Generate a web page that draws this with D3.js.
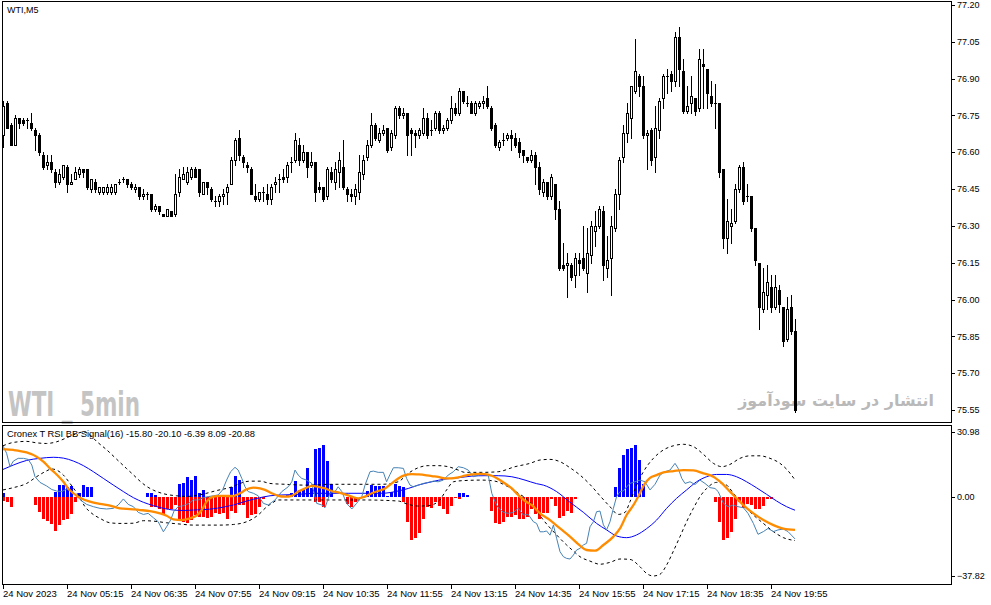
<!DOCTYPE html>
<html><head><meta charset="utf-8">
<script src="https://cdn.jsdelivr.net/npm/d3@7"></script>
<style>
html,body{margin:0;padding:0;background:#fff;}
svg{display:block;}
text{font-family:"Liberation Sans",Arial,sans-serif;}
</style></head><body>
<svg id="c" width="991" height="605"></svg>
<script>
// ---------- DATA ----------
const opens=[76.67,76.80,76.71,76.63,76.74,76.73,76.73,76.72,76.69,76.67,76.59,76.55,76.56,76.52,76.48,76.50,76.54,76.47,76.49,76.51,76.53,76.53,76.45,76.48,76.44,76.44,76.44,76.44,76.44,76.48,76.49,76.49,76.47,76.45,76.46,76.42,76.43,76.43,76.37,76.38,76.35,76.34,76.36,76.35,76.44,76.49,76.48,76.50,76.53,76.53,76.43,76.48,76.45,76.40,76.40,76.42,76.44,76.47,76.57,76.66,76.58,76.55,76.53,76.42,76.41,76.44,76.43,76.41,76.47,76.49,76.50,76.50,76.56,76.57,76.63,76.57,76.60,76.55,76.56,76.46,76.46,76.42,76.52,76.48,76.52,76.54,76.45,76.43,76.42,76.44,76.51,76.58,76.63,76.71,76.65,76.68,76.70,76.62,76.67,76.78,76.75,76.76,76.69,76.68,76.67,76.68,76.74,76.69,76.70,76.76,76.69,76.70,76.73,76.78,76.76,76.85,76.80,76.80,76.76,76.79,76.80,76.82,76.78,76.71,76.62,76.65,76.66,76.67,76.66,76.64,76.61,76.58,76.57,76.59,76.54,76.44,76.48,76.42,76.47,76.37,76.14,76.14,76.14,76.10,76.16,76.17,76.11,76.18,76.28,76.30,76.36,76.13,76.17,76.29,76.43,76.58,76.68,76.74,76.85,76.91,76.87,76.67,76.69,76.58,76.69,76.82,76.91,76.92,76.89,77.07,76.93,76.77,76.80,76.82,76.78,76.96,76.94,76.83,76.80,76.80,76.53,76.25,76.30,76.32,76.45,76.54,76.42,76.42,76.29,76.15,75.96,76.02,76.05,75.97,76.04,75.97,75.84,75.97,75.87];
const highs=[76.81,76.81,76.72,76.75,76.74,76.74,76.74,76.76,76.70,76.68,76.60,76.59,76.59,76.53,76.53,76.55,76.55,76.51,76.54,76.54,76.53,76.53,76.49,76.49,76.46,76.46,76.47,76.47,76.47,76.49,76.50,76.49,76.48,76.47,76.46,76.45,76.44,76.43,76.39,76.38,76.35,76.37,76.36,76.51,76.53,76.54,76.54,76.54,76.54,76.53,76.48,76.48,76.46,76.42,76.43,76.45,76.47,76.58,76.66,76.69,76.59,76.56,76.54,76.47,76.44,76.46,76.47,76.47,76.50,76.51,76.53,76.56,76.58,76.68,76.66,76.63,76.60,76.60,76.56,76.48,76.46,76.54,76.54,76.56,76.60,76.65,76.46,76.45,76.47,76.59,76.59,76.65,76.76,76.72,76.70,76.71,76.70,76.69,76.79,76.79,76.78,76.76,76.70,76.69,76.70,76.78,76.76,76.73,76.77,76.77,76.71,76.74,76.83,76.80,76.86,76.85,76.83,76.81,76.81,76.81,76.83,76.87,76.79,76.72,76.65,76.68,76.68,76.69,76.68,76.66,76.61,76.58,76.61,76.60,76.56,76.49,76.48,76.51,76.47,76.40,76.23,76.19,76.15,76.19,76.19,76.30,76.29,76.32,76.36,76.38,76.38,76.26,76.34,76.45,76.58,76.71,76.80,76.87,77.06,76.92,76.91,76.69,76.70,76.79,76.82,76.92,76.94,76.93,77.09,77.11,76.98,76.87,76.91,76.82,77.02,77.02,76.94,76.89,76.88,76.80,76.53,76.41,76.37,76.47,76.55,76.56,76.47,76.42,76.29,76.15,76.13,76.14,76.10,76.10,76.06,75.97,76.01,76.02,75.92];
const lows=[76.62,76.70,76.63,76.63,76.70,76.71,76.70,76.69,76.61,76.59,76.53,76.53,76.52,76.46,76.47,76.49,76.44,76.47,76.49,76.50,76.50,76.45,76.44,76.44,76.43,76.43,76.43,76.43,76.43,76.47,76.48,76.46,76.45,76.44,76.41,76.41,76.41,76.36,76.36,76.35,76.34,76.34,76.34,76.34,76.42,76.49,76.47,76.49,76.50,76.42,76.43,76.43,76.40,76.38,76.38,76.39,76.39,76.47,76.55,76.57,76.54,76.52,76.43,76.40,76.40,76.40,76.39,76.39,76.44,76.44,76.48,76.48,76.52,76.56,76.55,76.56,76.50,76.54,76.40,76.44,76.40,76.41,76.48,76.45,76.46,76.45,76.40,76.40,76.39,76.41,76.49,76.57,76.62,76.65,76.64,76.67,76.60,76.61,76.66,76.74,76.74,76.59,76.59,76.62,76.66,76.67,76.66,76.67,76.69,76.68,76.68,76.69,76.72,76.75,76.75,76.80,76.79,76.76,76.75,76.78,76.78,76.78,76.69,76.62,76.61,76.63,76.65,76.61,76.62,76.58,76.56,76.56,76.56,76.47,76.43,76.42,76.41,76.41,76.33,76.12,76.12,76.01,76.08,76.05,76.10,76.12,76.03,76.15,76.22,76.29,76.08,76.09,76.02,76.28,76.37,76.56,76.64,76.66,76.84,76.83,76.66,76.53,76.55,76.52,76.66,76.78,76.84,76.85,76.87,76.87,76.76,76.76,76.76,76.75,76.77,76.78,76.78,76.79,76.70,76.50,76.21,76.19,76.23,76.31,76.44,76.39,76.40,76.28,76.14,75.88,75.95,75.96,75.95,75.96,75.95,75.81,75.83,75.86,75.54];
const closes=[76.79,76.70,76.63,76.74,76.72,76.72,76.73,76.70,76.67,76.60,76.54,76.56,76.53,76.48,76.51,76.55,76.47,76.48,76.52,76.53,76.52,76.46,76.49,76.45,76.46,76.46,76.46,76.46,76.47,76.48,76.49,76.47,76.46,76.46,76.42,76.43,76.43,76.37,76.38,76.36,76.34,76.37,76.34,76.43,76.50,76.51,76.52,76.53,76.50,76.44,76.48,76.46,76.41,76.40,76.42,76.43,76.46,76.57,76.65,76.59,76.56,76.54,76.43,76.41,76.44,76.44,76.41,76.46,76.48,76.49,76.49,76.55,76.56,76.65,76.57,76.60,76.54,76.56,76.44,76.45,76.41,76.53,76.49,76.53,76.57,76.46,76.43,76.42,76.45,76.52,76.57,76.63,76.71,76.66,76.68,76.69,76.61,76.68,76.78,76.75,76.76,76.67,76.68,76.67,76.69,76.74,76.67,76.69,76.76,76.69,76.70,76.73,76.78,76.76,76.85,76.81,76.80,76.76,76.80,76.80,76.81,76.79,76.70,76.63,76.64,76.65,76.67,76.66,76.63,76.60,76.59,76.57,76.59,76.54,76.45,76.48,76.42,76.50,76.37,76.13,76.13,76.15,76.09,76.17,76.15,76.13,76.19,76.30,76.30,76.37,76.14,76.16,76.30,76.43,76.57,76.68,76.76,76.87,76.93,76.87,76.67,76.68,76.57,76.70,76.81,76.91,76.91,76.89,77.07,76.94,76.77,76.79,76.83,76.77,76.98,76.95,76.84,76.80,76.80,76.52,76.25,76.32,76.31,76.45,76.54,76.40,76.42,76.29,76.16,75.97,76.03,76.07,75.97,76.05,75.98,75.83,75.96,75.87,75.55];

const timeLabels=["24 Nov 2023","24 Nov 05:15","24 Nov 06:35","24 Nov 07:55","24 Nov 09:15","24 Nov 10:35","24 Nov 11:55","24 Nov 13:15","24 Nov 14:35","24 Nov 15:55","24 Nov 17:15","24 Nov 18:35","24 Nov 19:55"];
const timeLabelBars=[0,16,32,48,64,80,96,112,128,144,160,176,192];
const priceTicks=[77.20,77.05,76.90,76.75,76.60,76.45,76.30,76.15,76.00,75.85,75.70,75.55];
const indTicks=[30.98,0.00,-37.82];
const indLegend="Cronex T RSI BB Signal(16) -15.80 -20.10 -6.39 8.09 -20.88";

// histogram buffers [bar, value]
const upHist=[[0,1.6],[13,2.4],[14,5.6],[15,5.6],[16,4.8],[17,5.3],[19,1.6],[20,5.6],[21,4.8],[22,4.8],[36,1.6],[37,1.6],[38,1.1],[44,5.9],[45,6.4],[46,9.6],[47,8.0],[48,10.0],[49,1.6],[50,3.2],[57,4.8],[58,10.0],[59,8.0],[71,1.1],[72,1.6],[73,7.5],[74,3.2],[75,3.7],[76,13.9],[77,4.3],[78,22.8],[79,23.4],[80,24.7],[81,17.0],[82,6.2],[91,2.7],[92,5.6],[93,5.1],[94,5.1],[95,5.1],[96,0.3],[97,2.4],[98,6.2],[99,5.3],[100,4.6],[114,1.6],[115,1.6],[116,1.1],[153,4.8],[154,13.9],[155,20.2],[156,22.8],[157,23.4],[158,24.7],[159,17.5],[160,5.9]];
const downHist=[[0,-2.1],[1,-2.4],[2,-4.8],[8,-3.7],[9,-7.2],[10,-10.8],[11,-11.6],[12,-13.2],[13,-16.4],[14,-13.5],[15,-11.1],[16,-10.4],[17,-8.0],[18,-2.7],[37,-4.8],[38,-4.8],[39,-5.9],[40,-8.8],[41,-5.6],[42,-5.6],[43,-4.0],[44,-10.4],[45,-11.9],[46,-12.7],[47,-11.1],[48,-8.8],[49,-9.6],[50,-9.6],[51,-10.0],[52,-9.6],[53,-7.5],[54,-8.4],[55,-7.5],[56,-10.4],[57,-6.8],[58,-7.5],[59,-4.0],[60,-4.0],[61,-10.0],[62,-8.8],[63,-8.0],[64,-4.8],[65,-0.8],[78,-2.4],[79,-2.4],[80,-4.8],[86,-3.2],[87,-4.8],[88,-2.7],[100,-2.4],[101,-11.9],[102,-20.7],[103,-19.6],[104,-17.5],[105,-10.7],[106,-4.8],[107,-5.3],[108,-2.7],[109,-4.3],[110,-5.6],[111,-8.4],[112,-4.3],[113,-0.5],[114,-0.8],[122,-6.8],[123,-12.3],[124,-13.1],[125,-11.9],[126,-9.6],[127,-9.6],[128,-8.8],[129,-10.4],[130,-10.7],[131,-9.6],[132,-6.0],[133,-8.0],[134,-10.4],[135,-7.5],[136,-7.5],[137,-0.8],[138,-4.3],[139,-10.0],[140,-9.1],[141,-6.8],[142,-7.5],[143,-0.8],[178,-2.4],[179,-11.9],[180,-20.7],[181,-19.6],[182,-17.0],[183,-10.4],[184,-2.7],[185,-5.3],[186,-3.2],[187,-4.0],[188,-5.6],[189,-5.9],[190,-4.3],[191,-0.8],[192,-0.8]];

// line buffers [bar, value]
const signalLine=[[0,22.8],[2.6,22.4],[5.9,21.2],[8.4,19.2],[10.1,16.8],[11.75,13.6],[13.4,10.7],[15.1,7.2],[16.3,4.0],[17.6,1.7],[19.25,-0.4],[21.75,-2.3],[24.25,-3.4],[26.75,-4.2],[29.25,-5.5],[31.75,-5.9],[34.25,-6.3],[36.75,-6.8],[39.25,-7.9],[40.9,-9.0],[42.6,-10.8],[44.7,-11.1],[46.75,-10.3],[48.4,-9.0],[49.7,-6.3],[50.9,-2.3],[52.6,0.1],[54.25,0.5],[55.9,0.4],[57.6,0.4],[59.25,1.7],[60.9,3.6],[62.6,4.4],[64.25,4.0],[65.5,3.3],[67.2,1.7],[68.8,0.5],[70.5,0.1],[72.2,0.5],[73.8,2.5],[75.5,4.0],[77.2,5.2],[78.8,4.8],[80.5,4.0],[82.2,2.8],[83.8,2.1],[85.5,1.2],[87.2,0.1],[88.8,-0.7],[90.5,0.1],[92.2,1.7],[93.8,2.8],[95.5,4.0],[97.2,6.4],[98.8,8.8],[100.5,10.4],[102.2,10.9],[103.8,10.7],[105.5,10.4],[107.2,9.9],[108.8,9.5],[110.5,8.8],[112.2,8.8],[113.8,9.3],[115.5,10.1],[117.2,10.7],[118.8,11.0],[120.5,10.9],[122.2,10.1],[123.8,8.5],[125.5,6.4],[127.2,4.0],[128.8,0.9],[130.5,-2.0],[132.2,-3.9],[134.25,-7.9],[136.75,-11.1],[139.25,-15.1],[141.75,-19.0],[144.25,-23.3],[145.9,-25.4],[148.0,-25.7],[150.1,-23.0],[152.6,-19.0],[154.25,-15.1],[155.9,-8.7],[157.6,-4.0],[158.8,0.1],[160.5,6.4],[161.75,9.1],[163.4,10.4],[165.1,11.7],[167.6,12.3],[170.1,12.8],[172.6,12.6],[175.1,11.2],[177.6,9.6],[179.75,6.4],[181.75,2.5],[183.4,-0.7],[185.5,-4.7],[187.6,-7.9],[190.1,-11.1],[192.6,-13.5],[195.1,-15.2],[198,-15.8]];
const rsiLine=[[0,24.4],[0.9,20.8],[1.75,14.4],[2.6,17.1],[3.8,18.4],[5.1,18.4],[6.3,17.9],[7.2,15.2],[8.0,9.6],[9.25,6.9],[10.9,5.2],[12.2,3.5],[13.4,2.8],[14.7,2.5],[15.9,3.7],[17.2,2.5],[18.4,0.4],[19.7,-2.0],[20.9,-3.6],[22.6,-4.7],[24.25,-5.5],[25.9,-5.8],[27.6,-5.5],[28.8,-3.9],[30.1,-1.0],[31.3,-3.6],[32.6,-4.7],[33.8,-7.4],[35.1,-8.4],[36.3,-7.9],[37.6,-10.0],[38.8,-11.9],[40.1,-16.7],[40.9,-14.3],[41.9,-11.1],[42.75,-6.8],[43.8,-4.7],[45.1,-4.2],[46.3,-3.3],[47.6,-1.5],[48.8,-1.5],[50.1,-0.4],[51.3,0.1],[52.6,0.5],[53.8,0.9],[54.9,3.3],[55.9,8.0],[56.9,12.0],[58.0,14.1],[58.8,12.8],[59.7,8.8],[60.5,4.8],[61.3,2.5],[62.6,1.7],[63.8,0.5],[65.1,-3.1],[66.3,-3.9],[67.2,-2.6],[68,-1.5],[69.7,2.5],[71.3,4.8],[72.2,7.2],[73,12.8],[73.8,10.4],[74.7,8.8],[75.9,8.0],[77.2,6.4],[78.4,-3.1],[79.7,-3.9],[80.5,-5.2],[81.75,1.7],[83,2.5],[83.8,4.8],[84.7,2.5],[85.9,-3.1],[87.2,-5.8],[88.4,-3.1],[89.7,0.1],[90.5,5.6],[91.75,12.0],[92.6,12.3],[93.8,11.7],[95.1,11.7],[95.9,7.2],[96.75,10.7],[97.6,13.9],[98.8,13.9],[100.1,13.6],[100.9,8.8],[101.75,5.6],[102.6,4.8],[103.8,5.6],[105.1,6.4],[106.3,6.9],[107.6,7.5],[108.8,7.2],[110.1,8.0],[111.3,10.4],[112.6,12.0],[113.8,14.4],[115.1,13.9],[116.3,12.8],[117.6,9.6],[118.8,10.4],[120.1,10.7],[121.3,10.4],[122.2,1.7],[123,-2.3],[123.8,-5.2],[125.1,-7.4],[126.3,-7.9],[127.6,-7.4],[128.8,-5.5],[130.1,-8.7],[131.3,-8.4],[132.6,-11.9],[133.4,-12.7],[134.25,-16.7],[135.1,-16.7],[135.9,-16.3],[136.75,-18.3],[137.6,-13.5],[138.4,-19.8],[139.25,-26.2],[140.1,-28.6],[140.9,-29.4],[141.75,-29.7],[142.6,-27.8],[143.4,-25.4],[144.25,-24.6],[145.1,-23.0],[145.9,-22.2],[146.75,-14.3],[147.6,-11.9],[148.4,-7.1],[149.25,-6.8],[150.1,-13.4],[150.9,-15.8],[151.75,-11.9],[152.6,-5.5],[153.4,0.1],[154.25,2.5],[155.1,2.8],[155.9,4.8],[156.75,6.4],[158,7.2],[159.25,8.0],[160.5,7.2],[161.75,3.3],[163,6.0],[164.25,10.4],[165.5,12.0],[166.75,12.8],[168,16.0],[168.8,13.6],[169.7,8.8],[170.5,6.4],[171.75,7.2],[173,5.9],[174.25,8.0],[175.5,6.4],[176.75,4.4],[178,4.0],[178.8,2.5],[180.1,-3.1],[181.25,-4.7],[182.6,-3.9],[183.75,-4.7],[185.1,-5.2],[186.25,-7.9],[187.6,-12.7],[188.75,-17.9],[190.1,-16.6],[191.25,-15.1],[192.6,-16.6],[193.75,-15.8],[195.1,-15.4],[196.25,-16.6],[197.1,-18.3],[198,-20.1]];
const middleLine=[[0,13.1],[2.6,15.2],[5.9,17.4],[9.25,18.4],[12.6,18.9],[15.1,18.5],[17.6,17.1],[20.1,14.9],[22.6,12.0],[25.1,8.8],[27.6,5.6],[30.1,2.5],[32.6,-0.4],[35.1,-2.6],[37.6,-4.2],[40.1,-5.5],[42.6,-6.3],[45.1,-6.5],[47.6,-6.3],[51.0,-6.0],[54.25,-5.2],[57.6,-3.9],[60.9,-2.0],[64.25,-0.4],[66.75,0.5],[69.7,0.9],[73.8,1.2],[78.0,1.7],[82.2,1.7],[86.3,1.7],[90.5,1.7],[94.7,1.7],[98.8,2.8],[101.3,4.0],[103.8,5.6],[107.2,7.2],[110.5,8.5],[113.8,9.1],[117.2,9.9],[120.5,10.1],[123.8,10.1],[127.2,9.6],[130.5,8.0],[133.4,6.3],[135.1,5.6],[138.4,2.5],[141.75,-2.6],[145.1,-7.4],[148.4,-12.7],[150.9,-15.8],[153.4,-18.7],[155.9,-19.5],[158.4,-18.2],[160.9,-15.2],[163.4,-11.1],[165.9,-5.5],[168.4,-0.7],[170.9,3.3],[173.4,7.2],[175.9,9.6],[178.4,10.7],[180.9,10.7],[183.4,9.6],[185.9,7.2],[188.4,4.3],[190.9,1.2],[193.4,-2.0],[195.9,-4.7],[198,-6.39]];
const upperBand=[[0,24.4],[2.6,26.0],[5.9,26.5],[8.4,25.8],[10.9,25.5],[13.4,26.3],[15.9,28.2],[18.4,30.2],[20,30.98],[21.5,30.0],[23.4,26.5],[25.9,22.5],[28.4,18.0],[30.9,13.5],[32.6,10.5],[34.25,7.5],[35.9,5.0],[37.6,3.2],[40.1,1.5],[43.4,0.5],[45.9,0.2],[49.25,1.0],[53.4,3.0],[57.6,5.0],[59.25,6.4],[61.75,7.5],[64.25,7.5],[66.75,6.4],[70.5,6.0],[75.5,5.6],[82.2,6.0],[90.5,6.0],[94.7,6.0],[98.8,7.2],[101.3,11.2],[103.8,13.9],[106.3,14.9],[108.8,14.9],[111.3,14.4],[113.8,12.8],[115.5,11.7],[119.7,11.7],[123.8,12.0],[128.0,14.4],[131.75,16.0],[134.25,17.6],[136.75,17.9],[139.25,16.8],[141.75,13.9],[144.25,10.4],[146.75,5.9],[149.25,0.5],[151.75,-4.7],[153.8,-8.4],[155.5,-7.4],[156.75,-2.3],[158.4,5.6],[160.1,12.0],[162.6,18.4],[165.1,22.4],[167.6,24.4],[170.1,25.1],[172.6,24.0],[175.1,20.3],[177.6,16.0],[179.75,14.4],[181.75,15.5],[184.25,18.4],[186.75,19.6],[189.25,19.6],[191.75,18.4],[194.25,16.0],[196,13.0],[198,8.09]];
const lowerBand=[[0,3.3],[2.6,4.4],[5.9,6.4],[8.4,9.6],[10.5,12.0],[12.2,13.3],[13.4,12.8],[15.1,10.4],[16.75,6.4],[18.8,0.9],[20.5,-4.7],[22.2,-7.9],[24.25,-10.3],[26.75,-12.4],[29.25,-12.7],[32.6,-12.6],[35.1,-11.4],[37.6,-11.6],[40.9,-12.4],[44.25,-13.0],[47.6,-13.5],[50.9,-13.5],[54.25,-13.5],[57.6,-13.2],[60.9,-11.9],[62.6,-10.3],[64.25,-7.9],[65.5,-5.5],[67.2,-3.1],[68.8,-1.5],[73.8,-1.5],[82.2,-1.5],[90.5,-1.5],[98.8,-2.0],[101.3,-3.6],[103.8,-4.4],[106.3,-4.2],[108.8,-2.3],[110.9,3.3],[112.6,7.2],[115.5,7.8],[119.7,8.0],[123.0,7.5],[125.5,5.6],[128.8,1.7],[131.5,-2.0],[133.4,-6.8],[135.1,-11.1],[138.4,-18.2],[140.9,-23.0],[142.6,-25.9],[144.25,-28.6],[146.75,-30.7],[149.25,-32.2],[151.75,-31.3],[154.25,-29.7],[156.75,-29.9],[159.25,-33.4],[160.9,-36.6],[162.6,-37.82],[164.25,-37.0],[165.9,-32.6],[167.6,-25.9],[169.25,-19.0],[170.9,-11.9],[172.6,-5.5],[174.25,0.1],[175.9,4.0],[178.4,6.9],[180.9,5.6],[182.6,1.7],[185.1,-3.9],[187.6,-8.7],[190.1,-12.7],[192.6,-16.6],[195.1,-19.5],[198,-20.88]];

// ---------- DRAW ----------
const svg=d3.select('#c');
const L=2.5,R=951.5,mainT=1.5,mainB=422.5,indT=425.5,indB=584.5;
const nBars=opens.length;
const x=d3.scaleLinear().domain([0,nBars-1]).range([3,3+4*(nBars-1)]);
const yP=d3.scaleLinear().domain([75.55,77.20]).range([410,5]);
const yI=d3.scaleLinear().domain([-37.82,30.98]).range([576,432]);
const px=i=>Math.round(x(i))+0.5;

const defs=svg.append('defs');
defs.append('clipPath').attr('id','mainClip').append('rect').attr('x',L).attr('y',mainT).attr('width',R-L).attr('height',mainB-mainT);
defs.append('clipPath').attr('id','indClip').append('rect').attr('x',L).attr('y',indT).attr('width',R-L).attr('height',indB-indT);

// watermarks
svg.append('text').attr('x',8).attr('y',416).attr('textLength',132).attr('lengthAdjust','spacingAndGlyphs')
  .style('font-family','"Liberation Sans Narrow","DejaVu Sans Condensed","Liberation Sans",sans-serif')
  .style('font-weight','bold').style('font-size','33px').attr('fill','#c4c4c4').text('WTI _ 5min');
const fa=svg.append('text').attr('x',934).attr('y',406).attr('text-anchor','end')
  .style('font-family','"DejaVu Sans",sans-serif').style('font-weight','bold').style('font-size','19px')
  .attr('fill','#b9b9b9').text('انتشار در سایت سودآموز');
const faW=fa.node().getComputedTextLength();
if(faW>0) fa.style('font-size',(19*196/faW).toFixed(2)+'px');

// candles
const bars=d3.range(nBars).map(i=>({i,o:opens[i],h:highs[i],l:lows[i],c:closes[i]}));
const cg=svg.append('g').attr('clip-path','url(#mainClip)').attr('shape-rendering','crispEdges');
const py=v=>Math.round(yP(v));
cg.selectAll('line.wick').data(bars).join('line').attr('class','wick')
  .attr('x1',d=>px(d.i)).attr('x2',d=>px(d.i)).attr('y1',d=>py(d.h)).attr('y2',d=>py(d.l)+1)
  .attr('stroke','#000').attr('stroke-width',1);
cg.selectAll('rect.bear').data(bars.filter(d=>d.c<d.o)).join('rect').attr('class','bear')
  .attr('x',d=>px(d.i)-1.5).attr('width',3).attr('y',d=>py(d.o)).attr('height',d=>py(d.c)-py(d.o)+1).attr('fill','#000');
cg.selectAll('rect.bull').data(bars.filter(d=>d.c>d.o)).join('rect').attr('class','bull')
  .attr('x',d=>px(d.i)-1).attr('width',2).attr('y',d=>py(d.c)+0.5).attr('height',d=>Math.max(py(d.o)-py(d.c),0))
  .attr('fill','#fff').attr('stroke','#000').attr('stroke-width',1);
cg.selectAll('line.doji').data(bars.filter(d=>d.c===d.o)).join('line').attr('class','doji')
  .attr('x1',d=>px(d.i)-1.5).attr('x2',d=>px(d.i)+1.5).attr('y1',d=>py(d.o)+0.5).attr('y2',d=>py(d.o)+0.5)
  .attr('stroke','#000').attr('stroke-width',1);

// indicator
const ig=svg.append('g').attr('clip-path','url(#indClip)');
const hg=ig.append('g').attr('shape-rendering','crispEdges');
const z0=Math.round(yI(0));
hg.selectAll('rect.up').data(upHist).join('rect').attr('class','up')
  .attr('x',d=>px(d[0])-1.5).attr('width',3).attr('y',d=>Math.round(yI(d[1]))).attr('height',d=>z0-Math.round(yI(d[1])))
  .attr('fill','#0000ff');
hg.selectAll('rect.dn').data(downHist).join('rect').attr('class','dn')
  .attr('x',d=>px(d[0])-1.5).attr('width',3).attr('y',z0).attr('height',d=>Math.round(yI(d[1]))-z0)
  .attr('fill','#ff0000');

const smooth=d3.line().x(d=>x(d[0])).y(d=>yI(d[1])).curve(d3.curveMonotoneX);
const straight=d3.line().x(d=>x(d[0])).y(d=>yI(d[1]));
ig.append('path').datum(upperBand).attr('d',smooth).attr('fill','none').attr('stroke','#000').attr('stroke-width',1).attr('stroke-dasharray','3,3');
ig.append('path').datum(lowerBand).attr('d',smooth).attr('fill','none').attr('stroke','#000').attr('stroke-width',1).attr('stroke-dasharray','3,3');
ig.append('path').datum(middleLine).attr('d',smooth).attr('fill','none').attr('stroke','#0000ff').attr('stroke-width',1);
ig.append('path').datum(rsiLine).attr('d',straight).attr('fill','none').attr('stroke','#4682b4').attr('stroke-width',1);
ig.append('path').datum(signalLine).attr('d',smooth).attr('fill','none').attr('stroke','#ff8c00').attr('stroke-width',2.3);

// frames
svg.append('rect').attr('x',L).attr('y',mainT).attr('width',R-L).attr('height',mainB-mainT).attr('fill','none').attr('stroke','#000').attr('shape-rendering','crispEdges');
svg.append('rect').attr('x',L).attr('y',indT).attr('width',R-L).attr('height',indB-indT).attr('fill','none').attr('stroke','#000').attr('shape-rendering','crispEdges');

// labels
svg.append('text').attr('x',7).attr('y',13).style('font-size','9px').attr('fill','#000').text('WTI,M5');
svg.append('text').attr('x',7).attr('y',437).style('font-size','9px').attr('fill','#000').attr('textLength',248).attr('lengthAdjust','spacingAndGlyphs').text(indLegend);

// price axis
const pa=svg.append('g');
pa.selectAll('line').data(priceTicks).join('line').attr('x1',R).attr('x2',R+3.5)
  .attr('y1',d=>Math.round(yP(d))+0.5).attr('y2',d=>Math.round(yP(d))+0.5).attr('stroke','#000').attr('shape-rendering','crispEdges');
pa.selectAll('text').data(priceTicks).join('text').attr('x',957).attr('y',d=>yP(d)).attr('dy','0.35em')
  .style('font-size','9px').attr('fill','#000').text(d=>d3.format('.2f')(d));
const ia=svg.append('g');
ia.selectAll('line').data(indTicks).join('line').attr('x1',R).attr('x2',R+3.5)
  .attr('y1',d=>Math.round(yI(d))+0.5).attr('y2',d=>Math.round(yI(d))+0.5).attr('stroke','#000').attr('shape-rendering','crispEdges');
ia.selectAll('text').data(indTicks).join('text').attr('x',957).attr('y',d=>yI(d)).attr('dy','0.35em')
  .style('font-size','9px').attr('fill','#000').text(d=>d3.format('.2f')(d));

// time axis
const ta=svg.append('g');
ta.selectAll('line').data(timeLabelBars).join('line').attr('x1',d=>px(d)).attr('x2',d=>px(d))
  .attr('y1',indB).attr('y2',indB+4.5).attr('stroke','#000').attr('shape-rendering','crispEdges');
ta.selectAll('text').data(timeLabelBars).join('text').attr('x',d=>px(d)-0.5).attr('y',597)
  .style('font-size','9.5px').attr('fill','#000').text((d,i)=>timeLabels[i]);
</script>
</body></html>
